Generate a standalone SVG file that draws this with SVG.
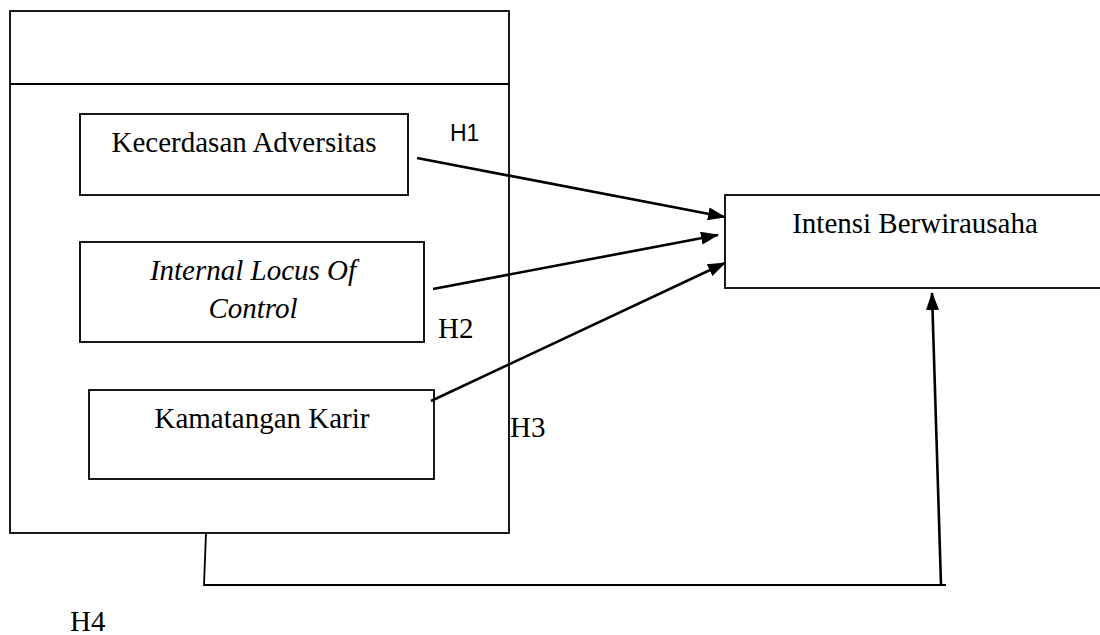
<svg xmlns="http://www.w3.org/2000/svg" width="1100" height="635" viewBox="0 0 1100 635">
<style>
.box{fill:none;stroke:#000;stroke-width:1.8}
.t{font-family:"Liberation Serif","Times New Roman",serif;font-size:29px;fill:#000}
.s{font-family:"Liberation Sans",Arial,sans-serif;font-size:23px;fill:#000}
.c{fill:none;stroke:#000;stroke-width:2.6}
.l{fill:none;stroke:#000;stroke-width:1.8}
</style>
<defs>
<marker id="ah" viewBox="0 0 18 13" refX="17" refY="6.5" markerWidth="18" markerHeight="13" markerUnits="userSpaceOnUse" orient="auto">
<path d="M0,0 L18,6.5 L0,13 Z" fill="#000"/>
</marker>
</defs>
<g id="outer">
<rect class="box" x="10" y="11" width="499" height="522"/>
<line class="box" x1="10" y1="84" x2="509" y2="84"/>
</g>
<g id="kecerdasan">
<rect class="box" x="80" y="114" width="328" height="81"/>
<text class="t" x="244" y="152" text-anchor="middle">Kecerdasan Adversitas</text>
</g>
<g id="locus">
<rect class="box" x="80" y="242" width="344" height="100"/>
<text class="t" x="253" y="280" text-anchor="middle" font-style="italic">Internal Locus Of</text>
<text class="t" x="253" y="318" text-anchor="middle" font-style="italic">Control</text>
</g>
<g id="karir">
<rect class="box" x="89" y="390" width="345" height="89"/>
<text class="t" x="262" y="428" text-anchor="middle">Kamatangan Karir</text>
</g>
<g id="intensi">
<rect class="box" x="725" y="195" width="400" height="93"/>
<text class="t" x="915" y="233" text-anchor="middle">Intensi Berwirausaha</text>
</g>
<g id="connectors">
<line class="c" x1="417" y1="158" x2="725" y2="217" marker-end="url(#ah)"/>
<line class="c" x1="433" y1="289" x2="718" y2="235" marker-end="url(#ah)"/>
<line class="c" x1="431" y1="401" x2="725" y2="263" marker-end="url(#ah)"/>
<polyline class="l" points="206,533 204,585 946,585"/>
<line class="c" x1="941" y1="585" x2="932" y2="293" marker-end="url(#ah)"/>
</g>
<g id="labels">
<text class="s" x="450" y="141">H1</text>
<text class="t" x="438" y="338">H2</text>
<text class="t" x="510" y="437">H3</text>
<text class="t" x="70" y="631">H4</text>
</g>
</svg>
